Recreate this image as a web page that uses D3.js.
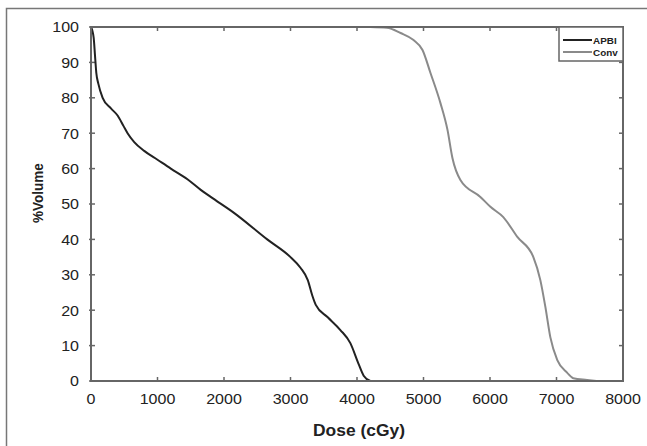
<!DOCTYPE html>
<html>
<head>
<meta charset="utf-8">
<script src="https://cdn.jsdelivr.net/npm/d3@7"></script>
<style>
  body { margin: 0; background: #fff; }
  svg { display: block; font-family: "Liberation Sans", Arial, sans-serif; }
</style>
</head>
<body>
<svg width="647" height="446"></svg>
<script>
// Dose-volume curves: [dose cGy, % volume]
const apbiDose = [0, 40, 60, 80, 110, 175, 300, 400, 490, 550, 650, 800, 1000, 1200, 1450, 1650, 1800, 2150, 2650, 3000, 3150, 3260, 3330, 3380, 3560, 3750, 3900, 4020, 4100, 4200]
const apbiVol = [100, 97, 92, 87, 84, 80, 77, 75, 72, 70, 67.5, 65, 62.5, 60, 57, 54, 52, 47.5, 40, 35, 32, 28.5, 24, 21.5, 18, 14.4, 10.7, 5, 1.5, 0]
const convDose = [4200, 4450, 4655, 4850, 4985, 5105, 5255, 5360, 5435, 5555, 5855, 6006, 6200, 6411, 6652, 6757, 6832, 6907, 7012, 7162, 7252, 7460, 7600]
const convVol = [100, 99.8, 98.3, 96.3, 93.5, 87, 78.5, 71, 63, 56.8, 52, 49.2, 46.3, 40.7, 35, 28.5, 21, 12.4, 5.9, 2.3, 0.8, 0.3, 0]
const xTicks = [0, 1000, 2000, 3000, 4000, 5000, 6000, 7000, 8000]
const yTicks = [0, 10, 20, 30, 40, 50, 60, 70, 80, 90, 100]
const seriesNames = ["APBI", "Conv"]
const seriesColors = ["#222", "#8a8a8a"]

const svg = d3.select("svg")

// outer figure frame (open at right and bottom)
svg.append("path")
	.attr("d", "M6.5,446 V8.5 H647")
	.attr("fill", "none")
	.attr("stroke", "#777")
	.attr("stroke-width", 1.5)

const pLeft = 91, pRight = 623, pTop = 27, pBottom = 381

const x = d3.scaleLinear().domain([0, 8000]).range([pLeft, pRight])
const y = d3.scaleLinear().domain([0, 100]).range([pBottom, pTop])

const axisColor = "#666"
const textColor = "#222"
// the original figure is stretched a little horizontally
const stretch = 1.07

// tick marks inward on all four sides
const tickLen = 4
const ticks = svg.append("g").attr("stroke", axisColor).attr("stroke-width", 1.5)
xTicks.forEach(t => {
	ticks.append("line").attr("x1", x(t)).attr("x2", x(t)).attr("y1", pBottom).attr("y2", pBottom - tickLen)
	ticks.append("line").attr("x1", x(t)).attr("x2", x(t)).attr("y1", pTop).attr("y2", pTop + tickLen)
})
yTicks.forEach(t => {
	ticks.append("line").attr("x1", pLeft - 2).attr("x2", pLeft + tickLen).attr("y1", y(t)).attr("y2", y(t))
	ticks.append("line").attr("x1", pRight).attr("x2", pRight - tickLen).attr("y1", y(t)).attr("y2", y(t))
})

// tick labels
svg.append("g")
	.selectAll("text")
	.data(xTicks)
	.join("text")
	.attr("transform", d => `translate(${x(d)},404) scale(${stretch},1)`)
	.attr("text-anchor", "middle")
	.attr("font-size", 15)
	.attr("fill", textColor)
	.text(d => d)

svg.append("g")
	.selectAll("text")
	.data(yTicks)
	.join("text")
	.attr("transform", d => `translate(79,${y(d) + 5.3}) scale(${stretch},1)`)
	.attr("text-anchor", "end")
	.attr("font-size", 15)
	.attr("fill", textColor)
	.text(d => d)

// curves
const line = d3.line()
	.x(d => x(d[0]))
	.y(d => y(d[1]))
	.curve(d3.curveMonotoneX)

const apbi = apbiDose.map((d, i) => [d, apbiVol[i]])
const conv = convDose.map((d, i) => [d, convVol[i]])

svg.append("path")
	.datum(conv)
	.attr("d", line)
	.attr("fill", "none")
	.attr("stroke", seriesColors[1])
	.attr("stroke-width", 2)

svg.append("path")
	.datum(apbi)
	.attr("d", line)
	.attr("fill", "none")
	.attr("stroke", seriesColors[0])
	.attr("stroke-width", 2)

// plot box
svg.append("rect")
	.attr("x", pLeft)
	.attr("y", pTop)
	.attr("width", pRight - pLeft)
	.attr("height", pBottom - pTop)
	.attr("fill", "none")
	.attr("stroke", axisColor)
	.attr("stroke-width", 2)

// legend
const legend = svg.append("g")
legend.append("rect")
	.attr("x", 559)
	.attr("y", pTop)
	.attr("width", pRight - 559)
	.attr("height", 34)
	.attr("fill", "#fff")
	.attr("stroke", axisColor)
	.attr("stroke-width", 1.5)

seriesNames.forEach((name, i) => {
	legend.append("line")
		.attr("x1", 563)
		.attr("x2", 592)
		.attr("y1", 40 + i * 12)
		.attr("y2", 40 + i * 12)
		.attr("stroke", seriesColors[i])
		.attr("stroke-width", 2)
	legend.append("text")
		.attr("transform", `translate(593,${43.5 + i * 12}) scale(1.1,1)`)
		.attr("font-size", 9)
		.attr("font-weight", "bold")
		.attr("fill", textColor)
		.text(name)
})

// axis titles
svg.append("text")
	.attr("transform", `translate(359,436) scale(1.09,1)`)
	.attr("text-anchor", "middle")
	.attr("font-size", 16)
	.attr("font-weight", "bold")
	.attr("fill", textColor)
	.text("Dose (cGy)")

svg.append("text")
	.attr("transform", "translate(43,193) rotate(-90) scale(1,1.1)")
	.attr("text-anchor", "middle")
	.attr("font-size", 13.5)
	.attr("font-weight", "bold")
	.attr("fill", textColor)
	.text("%Volume")
</script>
</body>
</html>
